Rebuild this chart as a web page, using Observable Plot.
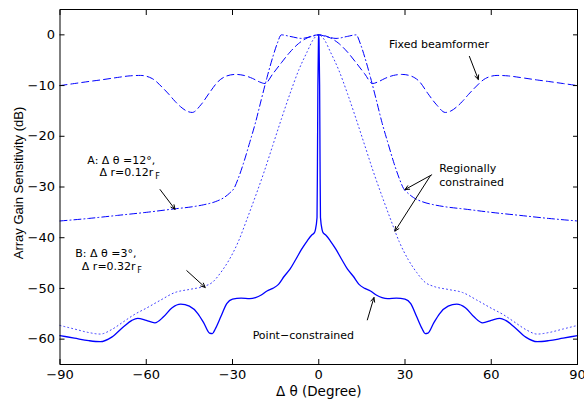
<!DOCTYPE html>
<html>
<head>
<meta charset="utf-8">
<script src="https://cdn.jsdelivr.net/npm/d3@7"></script>
<script src="https://cdn.jsdelivr.net/npm/@observablehq/plot@0.6"></script>
<style>
  html, body { margin: 0; padding: 0; background: white; }
</style>
</head>
<body>
<div id="chart"></div>
<script>
// ---- Data ----
const xTicks = [-90, -60, -30, 0, 30, 60, 90];
const yTicks = [0, -10, -20, -30, -40, -50, -60];

// Fixed beamformer (dashed)
const fixedTheta = [-90,-85,-80,-76,-70,-66,-62,-58,-54,-52,-50,-48,-46,-44,-41,-38,-35,-32,-29,-26,-23,-20.5,-18.7,-16,-13,-10,-7,-4,-2,0,2,4,7,10,13,16,18.7,20.5,23,26,29,32,35,38,41,44,46,48,50,52,54,58,62,66,70,76,80,85,90];
const fixedGain  = [-10,-9.6,-9.2,-8.9,-8.4,-8.1,-8.0,-8.6,-10.6,-11.8,-13.1,-14.2,-15.0,-15.3,-13.8,-11.4,-9.2,-8.1,-7.8,-8.0,-8.6,-9.3,-9.6,-7.7,-5.5,-3.4,-1.7,-0.6,-0.15,0,-0.15,-0.6,-1.7,-3.4,-5.5,-7.7,-9.6,-9.3,-8.6,-8.0,-7.8,-8.1,-9.2,-11.6,-13.8,-15.3,-15.0,-14.2,-13.1,-11.8,-10.6,-8.6,-8.0,-8.1,-8.4,-8.9,-9.2,-9.6,-10];

// Regionally constrained A: Δθ=12°, Δr=0.12 r_F (dash-dot)
const regATheta = [-90,-80,-70,-60,-50,-44,-40,-36,-33,-31,-29.5,-28,-26,-24,-22,-20,-18,-16,-14.5,-13,-10,-6,-3,0,3,6,10,13,14.5,16,18,20,22,24,26,28,29.5,31,33,36,40,44,50,60,70,80,90];
const regAGain  = [-36.7,-36.2,-35.6,-35.0,-34.3,-33.9,-33.5,-32.9,-32.1,-31.2,-30.3,-28.3,-25.0,-21.2,-17.3,-12.8,-8.4,-4.4,-1.8,0,-0.3,-0.7,-0.4,0,-0.4,-0.7,-0.3,0,-1.8,-4.4,-8.4,-12.8,-17.3,-21.2,-25.0,-28.3,-30.3,-31.2,-32.1,-32.9,-33.5,-33.9,-34.3,-35.0,-35.6,-36.2,-36.7];

// Regionally constrained B: Δθ=3°, Δr=0.32 r_F (dotted)
const regBTheta = [-90,-85,-80,-76,-72,-68,-64,-60,-55,-50,-45,-40,-37,-34,-31,-28,-25,-22,-19,-16,-13,-10,-7,-4,-2,0,2,4,7,10,13,16,19,22,25,28,31,34,37,40,45,50,55,60,64,68,72,76,80,85,90];
const regBGain  = [-57.3,-58.0,-58.7,-59.0,-58.1,-56.6,-55.1,-53.9,-52.3,-50.8,-50.2,-49.6,-48.8,-46.8,-44.2,-40.8,-36.4,-31.8,-27.0,-21.8,-16.6,-11.6,-7.0,-3.3,-1.0,0,-1.0,-3.3,-7.0,-11.6,-16.6,-21.8,-27.0,-31.8,-36.4,-40.8,-44.2,-46.8,-48.8,-49.6,-50.2,-50.8,-52.3,-53.9,-55.1,-56.6,-58.1,-59.0,-58.7,-58.0,-57.3];

// Point-constrained (solid)
const pointTheta = [-90,-85,-80,-76,-72,-68,-65,-63,-60,-57,-54,-51,-48,-45,-42,-40,-38,-37,-36,-34,-32,-30,-27,-24,-22,-20,-18,-16,-14,-12,-10,-8,-6,-4,-2.5,-1.5,-1.2,-0.6,-0.45,-0.3,-0.1,0,0.1,0.3,0.45,0.6,1.2,1.5,2.5,4,6,8,10,12,14,16,18,20,22,24,27,30,32,34,36,37,38,40,42,45,48,51,54,57,60,63,65,68,72,76,80,85,90];
const pointGain  = [-59.3,-59.8,-60.3,-60.5,-59.6,-57.6,-56.3,-55.9,-56.3,-56.8,-55.6,-53.8,-53.1,-53.5,-55.0,-56.8,-58.8,-58.9,-58.0,-55.5,-53.0,-52.1,-51.9,-52.0,-51.8,-51.3,-50.5,-50.0,-49.2,-47.6,-46.2,-44.3,-42.3,-40.6,-39.5,-39.0,-38.5,-36.0,-25.0,-10.0,-1.0,0,-1.0,-10.0,-25.0,-36.0,-38.5,-39.0,-39.5,-40.6,-42.3,-44.3,-46.2,-47.6,-49.2,-50.0,-50.5,-51.3,-51.8,-52.0,-51.9,-52.1,-53.0,-55.5,-58.0,-58.9,-58.8,-56.8,-55.0,-53.5,-53.1,-53.8,-55.6,-56.8,-56.3,-55.9,-56.3,-57.6,-59.6,-60.5,-60.3,-59.8,-59.3];

// Annotation texts and anchor positions (data coordinates)
const labelTexts = ["Fixed beamformer", "Regionally\nconstrained", "A: Δ θ =12°,", "Δ r=0.12r", "B: Δ θ =3°,", "Δ r=0.32r", "Point−constrained"];
const labelTheta = [24.4, 41.9, -80.5, -76.3, -84.7, -82.4, -23.0];
const labelGain  = [-1.7, -27.55, -24.6, -26.9, -42.9, -45.4, -59.2];

const subTexts = ["F", "F"];
const subTheta = [-56.9, -63.1];
const subGain  = [-27.9, -46.4];

// Arrows: start (x1,y1) -> tip (x2,y2)
const arrowX1 = [52.4, 39.3, 38.7, -55.2, -45.9, 16.9];
const arrowY1 = [-4.25, -27.6, -27.9, -30.5, -46.5, -56.2];
const arrowX2 = [55.5, 30.0, 26.5, -50.0, -39.5, 19.2];
const arrowY2 = [-8.8, -30.5, -38.7, -34.4, -49.8, -51.8];

// ---- Build tables ----
const zip = (xs, ys) => xs.map((x, i) => ({x, y: ys[i]}));
const fixed = zip(fixedTheta, fixedGain);
const regA = zip(regATheta, regAGain);
const regB = zip(regBTheta, regBGain);
const point = zip(pointTheta, pointGain);
const labels = labelTexts.map((t, i) => ({t, x: labelTheta[i], y: labelGain[i]}));
const subs = subTexts.map((t, i) => ({t, x: subTheta[i], y: subGain[i]}));
const arrows = arrowX1.map((x1, i) => ({x1, y1: arrowY1[i], x2: arrowX2[i], y2: arrowY2[i]}));

const blue = "#0000ff";
const sans = "'DejaVu Sans', Verdana, sans-serif";
const helv = "'Liberation Sans', Arial, Helvetica, sans-serif";

const chart = Plot.plot({
  width: 584,
  height: 401,
  marginLeft: 59.5,
  marginRight: 7,
  marginTop: 9,
  marginBottom: 37,
  style: {fontFamily: sans, fontSize: "13px", background: "white", color: "black"},
  x: {domain: [-90, 90]},
  y: {domain: [-65, 5]},
  marks: [
    Plot.line(regB, {x: "x", y: "y", stroke: "#3a3aff", strokeWidth: 1, strokeDasharray: "1,3", curve: "monotone-x"}),
    Plot.line(regA, {x: "x", y: "y", stroke: blue, strokeWidth: 1, strokeDasharray: "7,3,1,3", curve: "monotone-x"}),
    Plot.line(fixed, {x: "x", y: "y", stroke: blue, strokeWidth: 1, strokeDasharray: "7,4", curve: "monotone-x"}),
    Plot.line(point, {x: "x", y: "y", stroke: blue, strokeWidth: 1.3, curve: "monotone-x"}),
    Plot.frame({stroke: "black", strokeWidth: 1}),
    Plot.axisX({anchor: "bottom", ticks: xTicks, tickSize: -5, tickPadding: 10, label: null, tickFormat: d3.format(""), fontSize: 13}),
    Plot.axisX({anchor: "top", ticks: xTicks, tickSize: -5, label: null, tickFormat: () => ""}),
    Plot.axisY({anchor: "left", ticks: yTicks, tickSize: -5, tickPadding: 10, label: null, tickFormat: d3.format(""), fontSize: 13}),
    Plot.axisY({anchor: "right", ticks: yTicks, tickSize: -5, label: null, tickFormat: () => ""}),
    Plot.text(["Δ θ (Degree)"], {frameAnchor: "bottom", textAnchor: "middle", lineAnchor: "middle", dy: 26.7, fontSize: 13.5}),
    Plot.text(["Array Gain Sensitivity (dB)"], {frameAnchor: "left", textAnchor: "middle", lineAnchor: "middle", rotate: -90, dx: -41.2, dy: -4, fontSize: 13, fontFamily: helv}),
    Plot.text(labels, {x: "x", y: "y", text: "t", textAnchor: "start", fontSize: 11, lineHeight: 1.25}),
    Plot.text(subs, {x: "x", y: "y", text: "t", textAnchor: "start", fontSize: 8}),
    Plot.arrow(arrows, {x1: "x1", y1: "y1", x2: "x2", y2: "y2", stroke: "black", strokeWidth: 1, headLength: 7, headAngle: 50})
  ]
});
document.getElementById("chart").appendChild(chart);
</script>
</body>
</html>
